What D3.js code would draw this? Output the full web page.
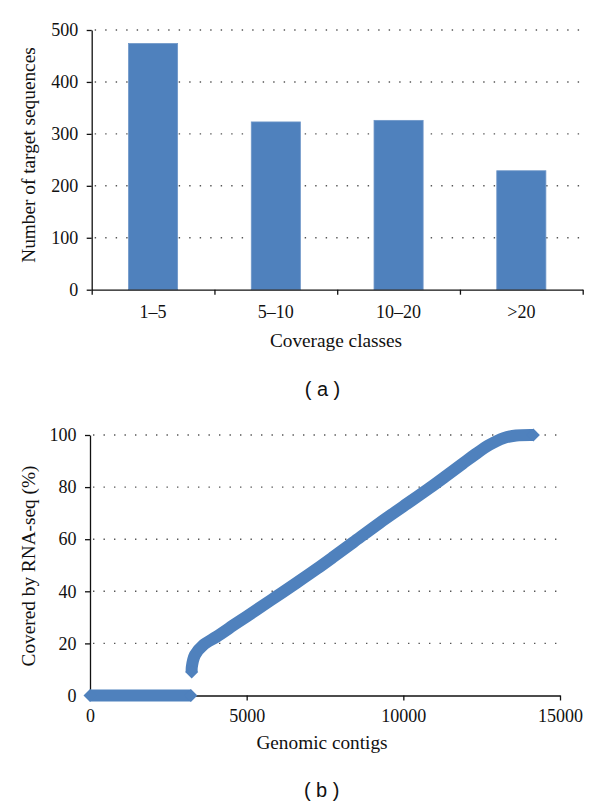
<!DOCTYPE html>
<html><head><meta charset="utf-8">
<script src="https://cdn.jsdelivr.net/npm/d3@7"></script>
<style>
body{margin:0;background:#fff}
.ax text{font-family:"Liberation Serif","Times New Roman",serif;font-size:18px;fill:#111}
.ax path,.ax line{stroke:#111;stroke-width:1.3px}
.ttl{font-family:"Liberation Serif","Times New Roman",serif;font-size:19.3px;fill:#111}
.pan{font-family:"Liberation Sans",Arial,sans-serif;font-size:20px;fill:#111}
.grid{stroke:#555;stroke-width:1.4px;stroke-dasharray:1.4 9.1}
</style>
</head><body>
<svg id="c" width="600" height="807"></svg>
<script>
// ---- data: panel (a)
const categories = ["1–5", "5–10", "10–20", ">20"];
const targetCounts = [474, 323, 326, 229];
const barTicks = [0, 100, 200, 300, 400, 500];
// ---- data: panel (b)
const zeroContigs = [0, 3220];
const zeroCovered = [0, 0];
const contigIndex = [3245, 3250, 3351, 3617, 4044, 4682, 5320, 5958, 6597, 7235, 7766, 8400, 9250, 10000, 10831, 11400, 11894, 12300, 12744, 13200, 13600, 14150];
const coveredPct  = [9, 11, 15.6, 19.4, 22.6, 27.8, 32.9, 38.1, 43.3, 48.6, 53.2, 58.8, 66.3, 72.6, 79.6, 84.6, 89.0, 92.6, 96.2, 98.8, 99.8, 100];
const lineTicksX = [0, 5000, 10000, 15000];
const lineTicksY = [0, 20, 40, 60, 80, 100];

const svg = d3.select("#c");
const blue = "#4F81BD";

// ================= panel (a) =================
{
  const L = 91.7, R = 582.7, T = 30, B = 289.7;
  const x = d3.scaleBand().domain(categories).range([L, R]).paddingInner(0.6).paddingOuter(0.3);
  const xb = d3.scaleLinear().domain([0, categories.length]).range([L, R]);
  const y = d3.scaleLinear().domain([0, 500]).range([B, T]);
  const g = svg.append("g");

  g.selectAll("line.grid").data(barTicks.filter(d => d > 0)).join("line")
    .attr("class", "grid").attr("x1", L + 3).attr("x2", R - 2)
    .attr("y1", d => y(d)).attr("y2", d => y(d));

  g.selectAll("rect").data(targetCounts).join("rect")
    .attr("x", (d, i) => x(categories[i])).attr("width", x.bandwidth())
    .attr("y", d => y(d)).attr("height", d => B - y(d)).attr("fill", blue)
    .attr("stroke", "#6f97c8").attr("stroke-width", 0.8);

  g.append("g").attr("class", "ax").attr("transform", `translate(${L},0)`)
    .call(d3.axisLeft(y).tickValues(barTicks).tickSize(5).tickSizeOuter(0).tickPadding(8.4));
  g.append("g").attr("class", "ax").attr("transform", `translate(0,${B})`)
    .call(d3.axisBottom(xb).tickValues(d3.range(categories.length + 1)).tickSize(5).tickSizeOuter(0).tickFormat(""));
  const xa = g.append("g").attr("class", "ax").attr("transform", `translate(0,${B})`)
    .call(d3.axisBottom(x).tickSize(0).tickPadding(15.2));
  xa.select(".domain").remove();

  g.append("text").attr("class", "ttl").attr("x", 336).attr("y", 346.7).attr("text-anchor", "middle").text("Coverage classes");
  g.append("text").attr("class", "ttl").attr("text-anchor", "middle")
    .attr("transform", "translate(35,155) rotate(-90)").text("Number of target sequences");
  g.append("text").attr("class", "pan").attr("x", 322.5).attr("y", 396).attr("text-anchor", "middle").text("( a )");
}

// ================= panel (b) =================
{
  const L = 90, R = 560, T = 435, B = 695.5;
  const x = d3.scaleLinear().domain([0, 15000]).range([L, R]);
  const y = d3.scaleLinear().domain([0, 100]).range([B, T]);
  const g = svg.append("g");

  g.selectAll("line.grid").data(lineTicksY.filter(d => d > 0)).join("line")
    .attr("class", "grid").attr("x1", L + 3).attr("x2", R + 1)
    .attr("y1", d => y(d)).attr("y2", d => y(d));

  g.append("g").attr("class", "ax").attr("transform", `translate(${L},0)`)
    .call(d3.axisLeft(y).tickValues(lineTicksY).tickSize(5).tickSizeOuter(0).tickPadding(8.4));
  g.append("g").attr("class", "ax").attr("transform", `translate(0,${B})`)
    .call(d3.axisBottom(x).tickValues(lineTicksX).tickSize(5).tickSizeOuter(0).tickPadding(8.9).tickFormat(d3.format("d")));

  const line = d3.line().x(d => x(d[0])).y(d => y(d[1])).curve(d3.curveCatmullRom.alpha(0.5));
  const seg1 = zeroContigs.map((v, i) => [v, zeroCovered[i]]);
  const seg2 = contigIndex.map((v, i) => [v, coveredPct[i]]);
  const diamond = d3.symbol(d3.symbolSquare, 84);
  [seg1, seg2].forEach(seg => {
    g.append("path").attr("d", line(seg)).attr("fill", "none")
      .attr("stroke", blue).attr("stroke-width", 12).attr("stroke-linejoin", "round");
    [seg[0], seg[seg.length - 1]].forEach(p => {
      g.append("path").attr("d", diamond()).attr("fill", blue)
        .attr("transform", `translate(${x(p[0])},${y(p[1])}) rotate(45)`);
    });
  });

  g.append("text").attr("class", "ttl").attr("x", 322).attr("y", 749).attr("text-anchor", "middle").text("Genomic contigs");
  g.append("text").attr("class", "ttl").attr("text-anchor", "middle")
    .attr("transform", "translate(35,566) rotate(-90)").text("Covered by RNA-seq (%)");
  g.append("text").attr("class", "pan").attr("x", 321.7).attr("y", 797).attr("text-anchor", "middle").text("( b )");
}
</script>
</body></html>
